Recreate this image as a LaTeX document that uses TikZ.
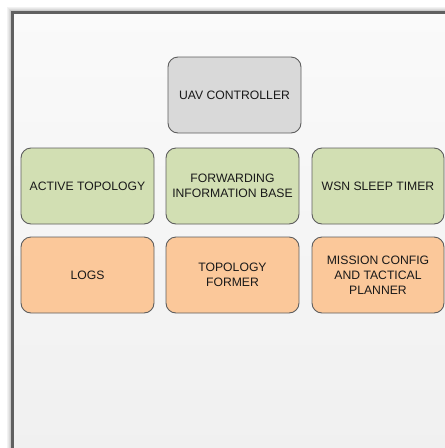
\documentclass[tikz,border=0pt]{standalone}
\usepackage{fontspec}
\setmainfont{Liberation Sans}
\definecolor{ctrlgray}{HTML}{D9D9D9}
\definecolor{layergreen}{HTML}{D2DFB3}
\definecolor{layerorange}{HTML}{FBC89A}
\definecolor{edgegray}{HTML}{5E5E5E}
\definecolor{framegray}{HTML}{606060}
\begin{document}
\begin{tikzpicture}[x=1pt,y=1pt,
  blk/.style={draw=edgegray, line width=0.9pt, rounded corners=10pt,
    minimum width=133pt, minimum height=76pt, inner sep=0pt,
    align=center, text=black!90,
    font=\fontsize{12.2}{14.8}\selectfont},
  ctrlbox/.style={blk, fill=ctrlgray},
  greenbox/.style={blk, fill=layergreen},
  orangebox/.style={blk, fill=layerorange}]
\useasboundingbox (0,0) rectangle (445,-448);
\begin{scope}
\clip (0,0) rectangle (445,-448);
\fill[white] (0,0) rectangle (445,-448);
% soft shadow round the panel
\foreach \d/\o in {5/0.05,4/0.09,3/0.14,2/0.2}
  \draw[black, opacity=\o, line width=1pt] (12.5-\d,-470) -- (12.5-\d,-12.5+\d) -- (470,-12.5+\d);
% panel background
\shade[top color=black!2, bottom color=black!6] (14,-14) rectangle (470,-470);
\draw[framegray, line width=3pt] (12.5,-480) -- (12.5,-12.5) -- (480,-12.5);
\end{scope}
% top controller
\node[ctrlbox] (uav) at (234.5,-95) {UAV CONTROLLER};
% middle row
\node[greenbox] (active) at (87.5,-186) {ACTIVE TOPOLOGY};
\node[greenbox] (fib) at (232.5,-186) {FORWARDING\\INFORMATION BASE};
\node[greenbox, minimum width=132pt] (sleep) at (378,-186) {WSN SLEEP TIMER};
% bottom row
\node[orangebox] (logs) at (87.5,-275) {LOGS};
\node[orangebox] (former) at (232.5,-275) {TOPOLOGY\\FORMER};
\node[orangebox, minimum width=132pt] (mission) at (378,-275) {MISSION CONFIG\\AND TACTICAL\\PLANNER};
\end{tikzpicture}
\end{document}
